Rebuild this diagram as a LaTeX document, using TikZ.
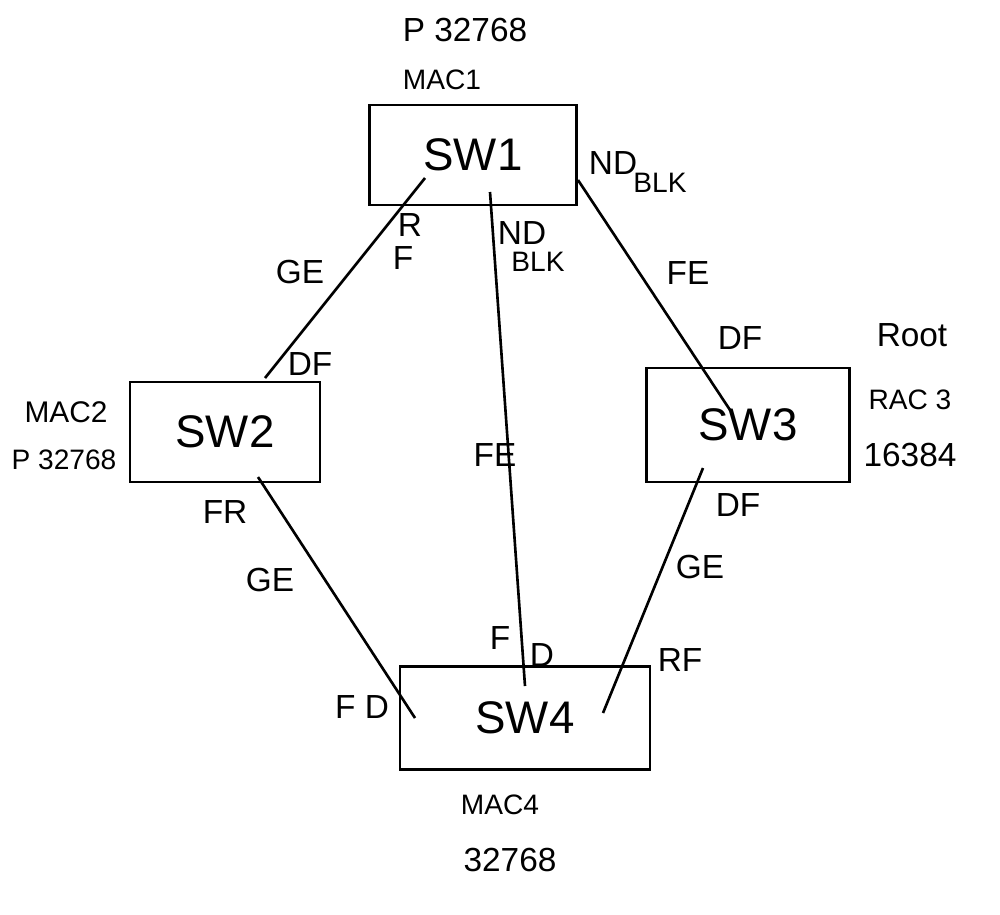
\documentclass[tikz,border=0pt]{standalone}
\usepackage{fontspec}
\setmainfont{Liberation Sans}
\begin{document}
\begin{tikzpicture}[x=0.02cm,y=-0.02cm,
  box/.style={draw,line width=1.6pt,inner sep=0pt,font=\fontsize{26}{30}\selectfont},
  lbl/.style={inner sep=0pt,font=\fontsize{19}{22}\selectfont},
  sml/.style={inner sep=0pt,font=\fontsize{16}{19}\selectfont},
  link/.style={line width=1.5pt}]
\useasboundingbox (0,0) rectangle (1000,914);
% switches
\node[box,minimum width=4.14cm,minimum height=2cm] (sw1) at (473,155) {SW1};
\node[box,minimum width=3.8cm,minimum height=2cm] (sw2) at (225,432) {SW2};
\node[box,minimum width=4.06cm,minimum height=2.28cm] (sw3) at (748,425) {SW3};
\node[box,minimum width=5cm,minimum height=2.06cm] (sw4) at (525,718) {SW4};
% connector end points
\coordinate (a1) at (425,178); \coordinate (b1) at (265,378);
\coordinate (a2) at (490,192); \coordinate (b2) at (525,686);
\coordinate (a3) at (578,180); \coordinate (b3) at (730,410);
\coordinate (a4) at (258,477); \coordinate (b4) at (415,718);
\coordinate (a5) at (703,468); \coordinate (b5) at (603,713);
\draw[link] (a1) -- (b1);
\draw[link] (a2) -- (b2);
\draw[link] (a3) -- (b3);
\draw[link] (a4) -- (b4);
\draw[link] (a5) -- (b5);
% SW1 labels
\node[lbl] (p1) at (465,30) {P 32768};
\node[sml] (m1) at (442,80) {MAC1};
\node[lbl] (n1) at (613,163) {ND};
\node[sml] (k1) at (660,183) {BLK};
\node[lbl] (r1) at (410,225) {R};
\node[lbl] (f1) at (403,258) {F};
\node[lbl] (n2) at (522,233) {ND};
\node[sml] (k2) at (538,262) {BLK};
% link labels
\node[lbl] (g1) at (300,272) {GE};
\node[lbl] (e1) at (688,273) {FE};
\node[lbl] (e2) at (495,455) {FE};
\node[lbl] (g2) at (270,580) {GE};
\node[lbl] (g3) at (700,567) {GE};
% SW2 labels
\node[lbl] (d2) at (310,364) {DF};
\node[sml,font=\fontsize{17}{20}\selectfont] (m2) at (66,412) {MAC2};
\node[sml] (p2) at (64,460) {P 32768};
\node[lbl] (fr) at (225,512) {FR};
% SW3 labels
\node[lbl] (d3) at (740,338) {DF};
\node[lbl] (rt) at (912,335) {Root};
\node[sml] (m3) at (910,400) {RAC 3};
\node[lbl] (p3) at (910,455) {16384};
\node[lbl] (d4) at (738,505) {DF};
% SW4 labels
\node[lbl] (f4) at (500,638) {F};
\node[lbl] (d5) at (542,655) {D};
\node[lbl] (rf) at (680,660) {RF};
\node[lbl] (fd) at (362,707) {F D};
\node[sml] (m4) at (500,805) {MAC4};
\node[lbl] (p4) at (510,860) {32768};
\end{tikzpicture}
\end{document}
